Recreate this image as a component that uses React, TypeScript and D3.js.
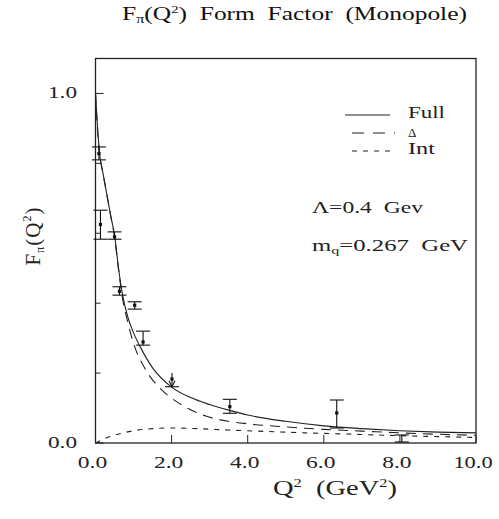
import * as d3 from "d3";

// curves
const fullQ2 = [0, 0.05, 0.1, 0.2, 0.3, 0.4, 0.5, 0.6, 0.7, 0.85, 1.0, 1.2, 1.5, 2.0, 2.5, 3.0, 3.5, 4.0, 5.0, 6.0, 7.0, 8.0, 9.0, 10.0];
const fullF = [1.0, 0.91, 0.835, 0.77, 0.71, 0.65, 0.595, 0.505, 0.43, 0.36, 0.315, 0.27, 0.215, 0.16, 0.13, 0.11, 0.094, 0.08, 0.062, 0.049, 0.041, 0.035, 0.031, 0.029];

const deltaQ2 = [0, 0.05, 0.1, 0.2, 0.3, 0.4, 0.5, 0.6, 0.7, 0.85, 1.0, 1.3, 1.7, 2.0, 2.3, 2.9, 3.5, 4.0, 5.0, 6.0, 7.0, 8.0, 9.0, 10.0];
const deltaF = [1.0, 0.9, 0.835, 0.77, 0.71, 0.65, 0.59, 0.5, 0.42, 0.345, 0.285, 0.213, 0.156, 0.128, 0.107, 0.077, 0.062, 0.055, 0.046, 0.039, 0.034, 0.029, 0.025, 0.022];

const intQ2 = [0, 0.3, 0.7, 1.0, 1.5, 2.0, 2.7, 3.5, 4.5, 5.5, 6.5, 8.0, 10.0];
const intF = [0, 0.015, 0.028, 0.035, 0.041, 0.043, 0.041, 0.037, 0.033, 0.029, 0.026, 0.021, 0.016];

// experimental points
const dataQ2 = [0.09, 0.13, 0.5, 0.63, 1.03, 1.25, 2.01, 3.53, 6.34, 8.05];
const dataF = [0.828, 0.625, 0.59, 0.434, 0.394, 0.289, 0.183, 0.104, 0.086, 0.013];
const dataLo = [0.81, 0.583, 0.583, 0.423, 0.383, 0.28, 0.161, 0.085, 0.043, 0.003];
const dataHi = [0.847, 0.666, 0.604, 0.447, 0.404, 0.32, 0.2, 0.125, 0.123, 0.023];

const xTicks = [0, 2, 4, 6, 8, 10];
const yLabelTicks = [0, 1];
const yMinorTicks = [0.2, 0.4, 0.6, 0.8];

const serif = "'Liberation Serif', 'DejaVu Serif', serif";
const nb = "\u00a0";
const stretch = "spacingAndGlyphs";

export default function App() {
  const width = 499;
  const height = 519;
  const left = 95.5;
  const right = 476;
  const top = 58.5;
  const bottom = 443;

  const x = d3.scaleLinear().domain([0, 10]).range([left, right]);
  const y = d3.scaleLinear().domain([0, 1.1]).range([bottom, top]);

  const line = d3
    .line<[number, number]>()
    .x((d) => x(d[0]))
    .y((d) => y(d[1]))
    .curve(d3.curveMonotoneX);

  const full = line(fullQ2.map((q, i) => [q, fullF[i]]) as [number, number][]);
  const delta = line(deltaQ2.map((q, i) => [q, deltaF[i]]) as [number, number][]);
  const inter = line(intQ2.map((q, i) => [q, intF[i]]) as [number, number][]);

  return (
    <svg
      width={width}
      height={height}
      viewBox={`0 0 ${width} ${height}`}
      style={{ position: "absolute", left: 0, top: 0, background: "#fff" }}
    >
      <rect width={width} height={height} fill="#fff" />

      {/* title */}
      <text x={122} y={20} fontFamily={serif} fontSize={19} textLength={345} lengthAdjust={stretch} fill="#111">
        F<tspan fontSize={12} dy={3}>π</tspan>
        <tspan dy={-3}>(Q</tspan>
        <tspan fontSize={11} dy={-7}>2</tspan>
        <tspan dy={7}>{`)${nb}${nb}Form${nb}${nb}Factor${nb}${nb}(Monopole)`}</tspan>
      </text>

      {/* frame */}
      <rect x={left} y={top} width={right - left} height={bottom - top} fill="none" stroke="#222" strokeWidth={1.3} />

      {/* x ticks */}
      {xTicks.map((t) => {
        const label = d3.format(".1f")(t);
        return (
          <g key={`x-${t}`}>
            <line x1={x(t)} x2={x(t)} y1={bottom} y2={bottom - 8} stroke="#222" strokeWidth={1} />
            <text
              x={x(t) - 3}
              y={468}
              textAnchor="middle"
              fontFamily={serif}
              fontSize={16}
              textLength={label.length * 9.8}
              lengthAdjust={stretch}
              fill="#222"
            >
              {label}
            </text>
          </g>
        );
      })}

      {/* y ticks */}
      {yLabelTicks.map((t) => (
        <g key={`y-${t}`}>
          <line x1={left} x2={left + 8} y1={y(t)} y2={y(t)} stroke="#222" strokeWidth={1} />
          <text
            x={77}
            y={y(t) + 5}
            textAnchor="end"
            fontFamily={serif}
            fontSize={16}
            textLength={29}
            lengthAdjust={stretch}
            fill="#222"
          >
            {d3.format(".1f")(t)}
          </text>
        </g>
      ))}
      {yMinorTicks.map((t) => (
        <line key={`ym-${t}`} x1={left} x2={left + 5} y1={y(t)} y2={y(t)} stroke="#222" strokeWidth={1} />
      ))}

      {/* curves */}
      <path d={full ?? ""} fill="none" stroke="#222" strokeWidth={1.1} />
      <path d={delta ?? ""} fill="none" stroke="#222" strokeWidth={1.1} strokeDasharray="10,7" />
      <path d={inter ?? ""} fill="none" stroke="#222" strokeWidth={1.1} strokeDasharray="5,6" />

      {/* data with error bars */}
      {dataQ2.map((q, i) => {
        const cx = x(q);
        const arrow = i === 6;
        return (
          <g key={`d-${i}`} stroke="#111" strokeWidth={1.1}>
            <line x1={cx} x2={cx} y1={y(dataLo[i])} y2={y(dataHi[i])} />
            {!arrow && <line x1={cx - 7} x2={cx + 7} y1={y(dataHi[i])} y2={y(dataHi[i])} />}
            <line x1={cx - 7} x2={cx + 7} y1={y(dataLo[i])} y2={y(dataLo[i])} />
            {arrow && (
              <path
                d={`M${cx - 3},${y(dataLo[i]) - 6} L${cx},${y(dataLo[i])} L${cx + 3},${y(dataLo[i]) - 6}`}
                fill="none"
              />
            )}
            {i !== 9 && <rect x={cx - 1.6} y={y(dataF[i]) - 1.6} width={3.2} height={3.2} fill="#111" stroke="none" />}
          </g>
        );
      })}

      {/* legend */}
      <g fontFamily={serif} fill="#222">
        <line x1={345} x2={390} y1={115} y2={115} stroke="#222" strokeWidth={1.1} />
        <text x={408} y={118} fontSize={17} textLength={37} lengthAdjust={stretch}>Full</text>
        <line x1={352} x2={395} y1={133} y2={133} stroke="#222" strokeWidth={1.1} strokeDasharray="12,9" />
        <text x={408} y={137} fontSize={13}>Δ</text>
        <line x1={352} x2={395} y1={151} y2={151} stroke="#222" strokeWidth={1.1} strokeDasharray="5,6" />
        <text x={408} y={154} fontSize={17} textLength={27} lengthAdjust={stretch}>Int</text>
      </g>

      {/* parameters */}
      <text x={312} y={213} fontFamily={serif} fontSize={17} textLength={111} lengthAdjust={stretch} fill="#222">
        {`Λ=0.4${nb}${nb}Gev`}
      </text>
      <text x={312} y={251} fontFamily={serif} fontSize={17} textLength={156} lengthAdjust={stretch} fill="#222">
        m<tspan fontSize={11} dy={3}>q</tspan>
        <tspan dy={-3}>{`=0.267${nb}${nb}GeV`}</tspan>
      </text>

      {/* axis titles */}
      <text x={273} y={495} fontFamily={serif} fontSize={21} textLength={124} lengthAdjust={stretch} fill="#222">
        Q<tspan fontSize={12} dy={-8}>2</tspan>
        <tspan dy={8}>{`${nb}${nb}(GeV`}</tspan>
        <tspan fontSize={12} dy={-8}>2</tspan>
        <tspan dy={8}>)</tspan>
      </text>
      <text
        transform="translate(40,236) rotate(-90)"
        textAnchor="middle"
        fontFamily={serif}
        fontSize={21}
        letterSpacing={1}
        fill="#222"
      >
        F<tspan fontSize={12} dy={4}>π</tspan>
        <tspan dy={-4}>(Q</tspan>
        <tspan fontSize={12} dy={-9}>2</tspan>
        <tspan dy={9}>)</tspan>
      </text>
    </svg>
  );
}
